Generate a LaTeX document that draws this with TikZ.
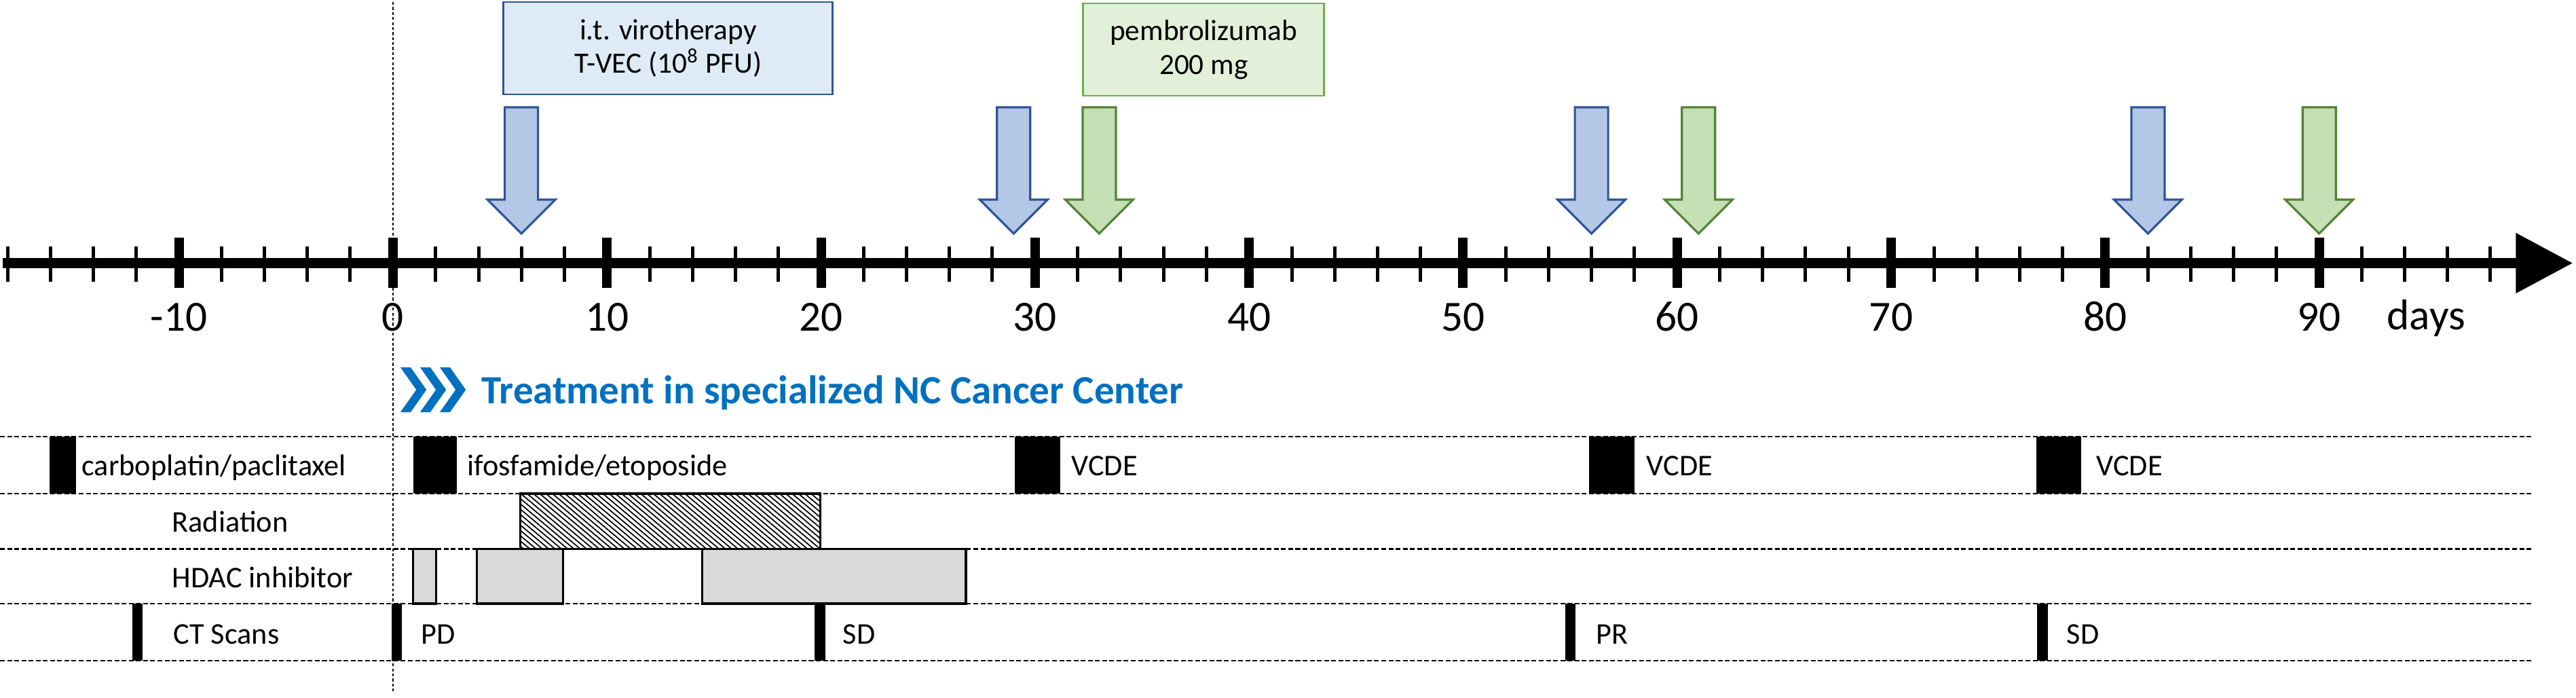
\documentclass[tikz,border=0pt]{standalone}
\usepackage{fontspec}
\setmainfont{Carlito}
\usetikzlibrary{arrows.meta,patterns.meta}
\definecolor{viroline}{HTML}{2F5597}
\definecolor{virofill}{HTML}{B4C7E7}
\definecolor{viroback}{HTML}{DEEBF7}
\definecolor{pembroline}{HTML}{548235}
\definecolor{pembrofill}{HTML}{C5E0B4}
\definecolor{pembroback}{HTML}{E2F0D9}
\definecolor{pembroedge}{HTML}{70AD47}
\definecolor{ncblue}{HTML}{0070C0}
\definecolor{hdacgrey}{HTML}{D9D9D9}
\begin{document}
\begin{tikzpicture}[x=3.153mm, y=1cm, font=\fontsize{12.6}{15}\selectfont,
    rowline/.style={line width=0.7pt, dash pattern=on 2pt off 1pt},
    minortick/.style={line width=0.5mm},
    majortick/.style={line width=1.4mm},
    rowtext/.style={inner sep=0pt, anchor=base west},
    daynum/.style={inner sep=0pt, anchor=base, font=\fontsize{18}{21}\selectfont},
    hdac/.style={draw=black, line width=0.9pt, fill=hdacgrey},
    radiation/.style={draw=black, line width=0.9pt,
      pattern={Lines[angle=-40, distance=1.7pt, line width=0.5pt]}},
    infobox/.style={draw, line width=0.8pt, minimum height=1.36cm, align=center,
      font=\fontsize{12.3}{14.2}\selectfont},
    dosearrow/.pic={\draw[pic actions] (-2.45mm,18.6mm) -- (2.45mm,18.6mm) -- (2.45mm,5mm)
      -- (5mm,5mm) -- (0,0) -- (-5mm,5mm) -- (-2.45mm,5mm) -- cycle;}]
  \useasboundingbox (-18.36,0) rectangle (102.0,-10.27);
  % day 0
  \draw[line width=0.6pt, dash pattern=on 1.2pt off 0.9pt] (0,-0.03) -- (0,-10.2);
  % time axis
  \draw[line width=1.5mm, -{Triangle[length=8.4mm, width=8.5mm]}] (-18.24,-3.875) -- (101.85,-3.875);
  \foreach \d in {-18,-16,...,98}
    \draw[minortick] (\d,-3.625) -- (\d,-4.15);
  \foreach \d in {-10,0,...,90} {
    \draw[majortick] (\d,-3.50) -- (\d,-4.24);
    \node[daynum] (day\d) at (\d,-4.876) {\d};
  }
  \node[daynum] (days) at (95,-4.85) {days};
  % drugs given
  \node[infobox, draw=viroline, fill=viroback, minimum width=4.85cm] (virobox) at (12.86,-0.71)
    {i.t. virotherapy\\T-VEC (10\textsuperscript{8} PFU)};
  \node[infobox, draw=pembroedge, fill=pembroback, minimum width=3.55cm] (pembrobox) at (37.88,-0.73)
    {pembrolizumab\\200 mg};
  \foreach \d in {6,29,56,82}
    \pic[draw=viroline, fill=virofill, line width=0.9pt] at (\d,-3.44) {dosearrow};
  \foreach \d in {33,61,90}
    \pic[draw=pembroline, fill=pembrofill, line width=0.9pt] at (\d,-3.44) {dosearrow};
  % NC Cancer Center
  \foreach \s in {0,2.9,5.8}
    \fill[ncblue] ([xshift=\s mm]0.35,-5.41) -- ++(1.5mm,0) -- ++(2.33mm,-3.3mm)
      -- ++(-2.33mm,-3.3mm) -- ++(-1.5mm,0) -- ++(2.33mm,3.3mm) -- cycle;
  \node[rowtext, text=ncblue, font=\fontsize{16.8}{19}\bfseries] (nccenter) at (4.12,-5.94)
    {Treatment in specialized NC Cancer Center};
  % rows
  \foreach \y in {-6.43,-7.27,-8.085,-8.89,-9.73}
    \draw[rowline] (-18.36,\y) -- (99.9,\y);
  \fill (-16.05,-6.43) rectangle (-14.81,-7.27);
  \fill (0.95,-6.43) rectangle (2.98,-7.27);
  \fill (29.05,-6.43) rectangle (31.18,-7.27);
  \fill (55.88,-6.43) rectangle (58.0,-7.27);
  \fill (76.78,-6.43) rectangle (78.88,-7.27);
  \node[rowtext] (carbo) at (-14.56,-7.0) {carboplatin/paclitaxel};
  \node[rowtext] (ifos) at (3.46,-7.0) {ifosfamide/etoposide};
  \node[rowtext] (vcdeA) at (31.68,-7.0) {VCDE};
  \node[rowtext] (vcdeB) at (58.55,-7.0) {VCDE};
  \node[rowtext] (vcdeC) at (79.57,-7.0) {VCDE};
  \draw[radiation] (5.96,-7.27) rectangle (19.98,-8.085);
  \node[rowtext] (radlabel) at (-10.34,-7.83) {Radiation};
  \draw[hdac] (0.95,-8.085) rectangle (2.03,-8.89);
  \draw[hdac] (3.93,-8.085) rectangle (7.96,-8.89);
  \draw[hdac] (14.46,-8.085) rectangle (26.77,-8.89);
  \node[rowtext] (hdaclabel) at (-10.34,-8.65) {HDAC inhibitor};
  \foreach \x in {-11.94,0.17,19.95,55.0,77.07}
    \fill (\x-0.24,-8.89) rectangle (\x+0.24,-9.73);
  \node[rowtext] (ctlabel) at (-10.28,-9.48) {CT Scans};
  \node[rowtext] (ctA) at (1.30,-9.48) {PD};
  \node[rowtext] (ctB) at (21.0,-9.48) {SD};
  \node[rowtext] (ctC) at (56.2,-9.48) {PR};
  \node[rowtext] (ctD) at (78.18,-9.48) {SD};
\end{tikzpicture}
\end{document}
